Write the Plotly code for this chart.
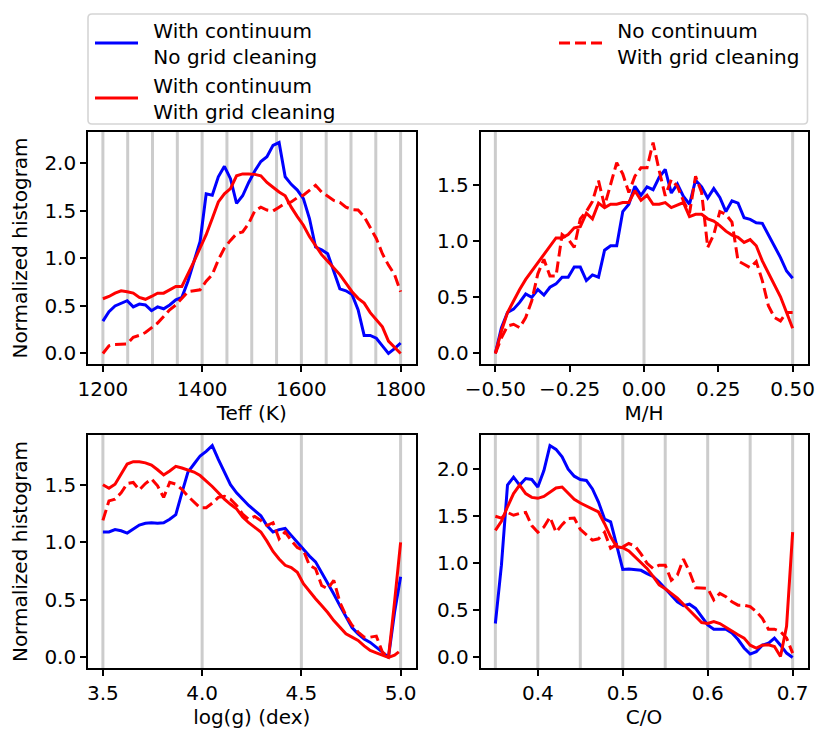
import numpy as np
import plotly.graph_objects as go

W, H = 830, 744

# ---------------- data ----------------
teff = np.linspace(1200, 1800, 50)
mh = np.linspace(-0.5, 0.5, 50)
logg = np.linspace(3.5, 5.0, 50)
co = np.linspace(0.35, 0.70, 50)

teff_blue = [0.34, 0.44, 0.50, 0.53, 0.555, 0.49, 0.52, 0.51, 0.45, 0.49, 0.47, 0.51, 0.565, 0.59, 0.76, 0.97, 1.18, 1.68, 1.665, 1.86,
             1.97, 1.84, 1.58, 1.66, 1.80, 1.92, 2.02, 2.07, 2.19, 2.22, 1.86, 1.78, 1.72, 1.63, 1.42, 1.12, 1.09, 1.05, 0.86, 0.68,
             0.66, 0.62, 0.46, 0.19, 0.19, 0.16, 0.08, 0.0, 0.05, 0.11]
teff_red = [0.576, 0.60, 0.635, 0.66, 0.65, 0.635, 0.59, 0.57, 0.60, 0.635, 0.635, 0.67, 0.705, 0.705, 0.83, 0.97, 1.11, 1.25, 1.42, 1.595,
            1.68, 1.735, 1.87, 1.89, 1.89, 1.885, 1.87, 1.80, 1.75, 1.70, 1.66, 1.54, 1.44, 1.35, 1.23, 1.13, 1.04, 0.97, 0.90, 0.83,
            0.74, 0.65, 0.58, 0.53, 0.43, 0.36, 0.28, 0.13, 0.06, 0.0]
teff_dash = [0.0, 0.08, 0.095, 0.095, 0.10, 0.17, 0.19, 0.22, 0.27, 0.32, 0.39, 0.46, 0.51, 0.58, 0.65, 0.66, 0.67, 0.76, 0.83, 0.985,
             1.11, 1.19, 1.26, 1.28, 1.37, 1.50, 1.54, 1.51, 1.50, 1.54, 1.58, 1.595, 1.64, 1.665, 1.72, 1.77, 1.70, 1.65, 1.61, 1.59,
             1.54, 1.515, 1.51, 1.44, 1.32, 1.21, 1.05, 0.93, 0.83, 0.65]

mh_blue = [0.0, 0.23, 0.365, 0.395, 0.455, 0.53, 0.50, 0.57, 0.52, 0.59, 0.62, 0.68, 0.68, 0.77, 0.77, 0.65, 0.70, 0.68, 0.92, 0.96,
           0.96, 1.265, 1.33, 1.49, 1.41, 1.485, 1.46, 1.57, 1.64, 1.43, 1.51, 1.40, 1.33, 1.545, 1.485, 1.385, 1.47, 1.39, 1.265, 1.36,
           1.34, 1.21, 1.195, 1.165, 1.16, 1.06, 0.96, 0.855, 0.735, 0.67]
mh_red = [0.0, 0.20, 0.365, 0.47, 0.57, 0.66, 0.735, 0.81, 0.885, 0.95, 1.03, 1.03, 1.06, 1.12, 1.13, 1.25, 1.20, 1.34, 1.30, 1.33,
          1.33, 1.345, 1.345, 1.45, 1.365, 1.41, 1.33, 1.33, 1.345, 1.30, 1.325, 1.345, 1.22, 1.24, 1.24, 1.20, 1.18, 1.14, 1.09, 1.055,
          1.035, 0.99, 1.015, 0.96, 0.825, 0.72, 0.62, 0.505, 0.365, 0.225]
mh_dash = [0.0, 0.14, 0.245, 0.26, 0.23, 0.32, 0.47, 0.71, 0.84, 0.69, 0.69, 1.06, 1.02, 0.945, 1.20, 1.265, 1.355, 1.54, 1.315, 1.52,
           1.70, 1.60, 1.435, 1.58, 1.655, 1.655, 1.88, 1.63, 1.405, 1.55, 1.49, 1.36, 1.25, 1.58, 1.435, 0.945, 1.06, 1.265, 1.24, 1.17,
           0.825, 0.795, 0.765, 0.82, 0.65, 0.425, 0.32, 0.29, 0.365, 0.365]

logg_blue = [1.09, 1.09, 1.11, 1.10, 1.08, 1.115, 1.15, 1.165, 1.17, 1.165, 1.17, 1.20, 1.24, 1.43, 1.61, 1.68, 1.75, 1.79, 1.84, 1.72,
             1.61, 1.50, 1.43, 1.375, 1.32, 1.275, 1.23, 1.145, 1.09, 1.11, 1.12, 1.06, 1.00, 0.94, 0.88, 0.83, 0.74, 0.64, 0.55, 0.45,
             0.35, 0.26, 0.205, 0.16, 0.13, 0.09, 0.046, 0.0, 0.39, 0.70]
logg_red = [1.50, 1.47, 1.505, 1.59, 1.68, 1.70, 1.70, 1.69, 1.67, 1.63, 1.585, 1.62, 1.66, 1.645, 1.63, 1.61, 1.58, 1.535, 1.485, 1.43,
            1.375, 1.33, 1.29, 1.22, 1.17, 1.13, 1.09, 1.01, 0.92, 0.855, 0.80, 0.78, 0.74, 0.64, 0.57, 0.51, 0.45, 0.39, 0.32, 0.26,
            0.205, 0.176, 0.147, 0.10, 0.06, 0.04, 0.02, 0.0, 0.48, 1.00]
logg_dash = [1.19, 1.36, 1.375, 1.43, 1.51, 1.52, 1.455, 1.51, 1.55, 1.49, 1.39, 1.52, 1.505, 1.46, 1.40, 1.35, 1.30, 1.30, 1.34, 1.39,
             1.40, 1.375, 1.32, 1.245, 1.20, 1.225, 1.19, 1.145, 1.17, 1.03, 1.09, 1.015, 0.955, 0.93, 0.80, 0.77, 0.625, 0.595, 0.67, 0.48,
             0.365, 0.28, 0.22, 0.176, 0.176, 0.185, 0.046, 0.0, 0.02, 0.06]

co_blue = [0.36, 0.98, 1.83, 1.915, 1.83, 1.90, 1.89, 1.81, 1.985, 2.25, 2.21, 2.13, 2.00, 1.925, 1.89, 1.88, 1.79, 1.65, 1.47, 1.44,
           1.19, 0.935, 0.94, 0.935, 0.925, 0.89, 0.86, 0.80, 0.73, 0.66, 0.59, 0.55, 0.565, 0.52, 0.43, 0.345, 0.30, 0.30, 0.30, 0.26,
           0.19, 0.10, 0.035, 0.06, 0.13, 0.15, 0.205, 0.13, 0.046, 0.0]
co_red = [1.35, 1.445, 1.60, 1.74, 1.83, 1.74, 1.70, 1.69, 1.71, 1.76, 1.80, 1.81, 1.74, 1.68, 1.64, 1.61, 1.58, 1.545, 1.42, 1.28,
          1.175, 1.165, 1.13, 1.07, 1.01, 0.945, 0.86, 0.77, 0.73, 0.68, 0.63, 0.565, 0.50, 0.43, 0.37, 0.36, 0.38, 0.36, 0.32, 0.275,
          0.24, 0.205, 0.13, 0.10, 0.13, 0.135, 0.115, 0.01, 0.33, 1.33]
co_dash = [1.50, 1.48, 1.54, 1.51, 1.53, 1.54, 1.40, 1.33, 1.385, 1.49, 1.33, 1.41, 1.475, 1.48, 1.36, 1.30, 1.245, 1.26, 1.33, 1.16,
           1.20, 1.175, 1.21, 1.185, 1.10, 1.00, 0.945, 0.98, 0.98, 0.82, 0.875, 1.045, 0.91, 0.74, 0.74, 0.735, 0.61, 0.68, 0.645, 0.59,
           0.555, 0.555, 0.54, 0.487, 0.415, 0.30, 0.30, 0.275, 0.205, 0.046]

# model grid values (gray vertical lines)
grid_teff = [1200, 1250, 1300, 1350, 1400, 1450, 1500, 1550, 1600, 1650, 1700, 1750, 1800]
grid_mh = [-0.5, 0.0, 0.5]
grid_logg = [3.5, 4.0, 4.5, 5.0]
grid_co = [0.35, 0.40, 0.45, 0.50, 0.55, 0.60, 0.65, 0.70]

series_lines = [["With continuum", "No grid cleaning"],
                ["With continuum", "With grid cleaning"],
                ["No continuum", "With grid cleaning"]]

# ---------------- figure ----------------
FONT = "DejaVu Sans"
FS = 20
BLUE = "#0000ff"
RED = "#ff0000"
LW = 3
DASH = "11px,5px"
PAD = "\u00a0\u2009"  # small gap between legend handle and label
series_names = ["<br>".join(PAD + s for s in lines) for lines in series_lines]

def px_x(a, b):
    return [a / W, b / W]

def px_y(top, bottom):
    return [1 - bottom / H, 1 - top / H]

panels = [
    dict(xa="x", ya="y", x=teff, ys=(teff_blue, teff_red, teff_dash), grid=grid_teff,
         xd=px_x(88, 415.5), yd=px_y(132, 364), xr=[1170, 1830], yr=[-0.111, 2.331],
         xt=[1200, 1400, 1600, 1800], xf="d", yt=[0, 0.5, 1.0, 1.5, 2.0],
         xtitle="Teff (K)", ytitle="Normalized histogram"),
    dict(xa="x2", ya="y2", x=mh, ys=(mh_blue, mh_red, mh_dash), grid=grid_mh,
         xd=px_x(480.5, 807.5), yd=px_y(132, 364), xr=[-0.55, 0.55], yr=[-0.094, 1.974],
         xt=[-0.5, -0.25, 0, 0.25, 0.5], xf=".2f", yt=[0, 0.5, 1.0, 1.5],
         xtitle="M/H", ytitle=None),
    dict(xa="x3", ya="y3", x=logg, ys=(logg_blue, logg_red, logg_dash), grid=grid_logg,
         xd=px_x(88, 415.5), yd=px_y(435, 668), xr=[3.425, 5.075], yr=[-0.092, 1.932],
         xt=[3.5, 4.0, 4.5, 5.0], xf=".1f", yt=[0, 0.5, 1.0, 1.5],
         xtitle="log(g) (dex)", ytitle="Normalized histogram"),
    dict(xa="x4", ya="y4", x=co, ys=(co_blue, co_red, co_dash), grid=grid_co,
         xd=px_x(480.5, 807.5), yd=px_y(435, 668), xr=[0.3325, 0.7175], yr=[-0.1125, 2.3625],
         xt=[0.4, 0.5, 0.6, 0.7], xf=".1f", yt=[0, 0.5, 1.0, 1.5, 2.0],
         xtitle="C/O", ytitle=None),
]

fig = go.Figure()
shapes = []
layout = {}

for k, p in enumerate(panels):
    blue, red, dash = p["ys"]
    first = (k == 0)
    fig.add_trace(go.Scatter(x=p["x"], y=blue, mode="lines", xaxis=p["xa"], yaxis=p["ya"],
                             line=dict(color=BLUE, width=LW), name=series_names[0],
                             legend="legend", showlegend=first))
    fig.add_trace(go.Scatter(x=p["x"], y=red, mode="lines", xaxis=p["xa"], yaxis=p["ya"],
                             line=dict(color=RED, width=LW), name=series_names[1],
                             legend="legend", showlegend=first))
    fig.add_trace(go.Scatter(x=p["x"], y=dash, mode="lines", xaxis=p["xa"], yaxis=p["ya"],
                             line=dict(color=RED, width=LW, dash=DASH), name=series_names[2],
                             legend="legend2", showlegend=first))
    for g in p["grid"]:
        shapes.append(dict(type="line", xref=p["xa"], yref=p["ya"] + " domain",
                           x0=g, x1=g, y0=0, y1=1, layer="below",
                           line=dict(color="#cccccc", width=3)))

    xname = "xaxis" + p["xa"][1:]
    yname = "yaxis" + p["ya"][1:]
    layout[xname] = dict(domain=p["xd"], range=p["xr"], anchor=p["ya"],
                         tickvals=p["xt"], tickformat=p["xf"],
                         showgrid=False, zeroline=False, showline=True, mirror=True,
                         linecolor="black", linewidth=1.6, ticks="outside", ticklen=6,
                         tickwidth=1.6, tickcolor="black",
                         tickfont=dict(family=FONT, size=FS, color="black"),
                         title=dict(text=p["xtitle"], standoff=4,
                                    font=dict(family=FONT, size=FS, color="black")))
    layout[yname] = dict(domain=p["yd"], range=p["yr"], anchor=p["xa"],
                         tickvals=p["yt"], tickformat=".1f",
                         showgrid=False, zeroline=False, showline=True, mirror=True,
                         linecolor="black", linewidth=1.6, ticks="outside", ticklen=6,
                         tickwidth=1.6, tickcolor="black",
                         tickfont=dict(family=FONT, size=FS, color="black"),
                         title=dict(text=p["ytitle"] or "", standoff=11,
                                    font=dict(family=FONT, size=FS, color="black")))

# legend frame (rounded rectangle in paper coordinates)
L, R, T, B, rad = 88, 807.5, 14, 124, 4
def X(v): return v / W
def Y(v): return 1 - v / H
frame = (f"M{X(L+rad)},{Y(T)} L{X(R-rad)},{Y(T)} Q{X(R)},{Y(T)} {X(R)},{Y(T+rad)} "
         f"L{X(R)},{Y(B-rad)} Q{X(R)},{Y(B)} {X(R-rad)},{Y(B)} "
         f"L{X(L+rad)},{Y(B)} Q{X(L)},{Y(B)} {X(L)},{Y(B-rad)} "
         f"L{X(L)},{Y(T+rad)} Q{X(L)},{Y(T)} {X(L+rad)},{Y(T)} Z")
shapes.append(dict(type="path", xref="paper", yref="paper", path=frame, layer="below",
                   line=dict(color="#d5d5d5", width=1.6), fillcolor="white"))

legend_common = dict(xanchor="left", yanchor="top", orientation="v",
                     itemwidth=43, borderwidth=0, bgcolor="rgba(0,0,0,0)",
                     font=dict(family=FONT, size=FS, color="black"),
                     traceorder="normal", tracegroupgap=0)

fig.update_layout(
    width=W, height=H,
    margin=dict(l=0, r=0, t=0, b=0, autoexpand=False),
    paper_bgcolor="white", plot_bgcolor="white",
    font=dict(family=FONT, color="black"),
    shapes=shapes,
    legend=dict(x=90 / W, y=1 - 10.5 / H, **legend_common),
    legend2=dict(x=554 / W, y=1 - 10.5 / H, **legend_common),
    **layout,
)

fig.write_html("out.html", config={"displayModeBar": False},
               post_script="document.body.style.margin='0px';")
